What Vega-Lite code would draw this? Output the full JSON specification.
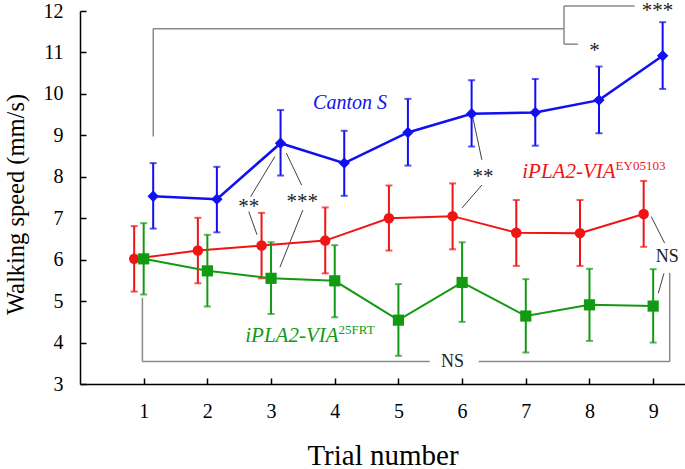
{
  "$schema": "https://vega.github.io/schema/vega-lite/v6.json",
  "autosize": {"type": "none"},
  "width": 605,
  "height": 373,
  "padding": {"left": 80, "top": 11, "right": 0, "bottom": 85},
  "background": "white",
  "config": {
    "view": {"stroke": null},
    "font": "Liberation Serif",
    "text": {"font": "Liberation Serif"},
    "axis": {"grid": false, "domainColor": "black", "domainWidth": 1.5, "tickColor": "black", "tickWidth": 1.5, "labelColor": "black", "titleColor": "black", "labelFont": "Liberation Serif", "titleFont": "Liberation Serif", "titleFontWeight": "normal"}
  },
  "datasets": {
    "speed": [
      {"trial": 1, "series": "Canton S", "mean": 7.53, "lo": 6.75, "hi": 8.33},
      {"trial": 2, "series": "Canton S", "mean": 7.46, "lo": 6.66, "hi": 8.24},
      {"trial": 3, "series": "Canton S", "mean": 8.81, "lo": 8.03, "hi": 9.61},
      {"trial": 4, "series": "Canton S", "mean": 8.33, "lo": 7.54, "hi": 9.11},
      {"trial": 5, "series": "Canton S", "mean": 9.07, "lo": 8.27, "hi": 9.88},
      {"trial": 6, "series": "Canton S", "mean": 9.52, "lo": 8.73, "hi": 10.33},
      {"trial": 7, "series": "Canton S", "mean": 9.55, "lo": 8.75, "hi": 10.36},
      {"trial": 8, "series": "Canton S", "mean": 9.85, "lo": 9.05, "hi": 10.66},
      {"trial": 9, "series": "Canton S", "mean": 10.92, "lo": 10.12, "hi": 11.73},
      {"trial": 1, "series": "EY05103", "mean": 6.02, "lo": 5.23, "hi": 6.81},
      {"trial": 2, "series": "EY05103", "mean": 6.22, "lo": 5.43, "hi": 7.01},
      {"trial": 3, "series": "EY05103", "mean": 6.34, "lo": 5.55, "hi": 7.13},
      {"trial": 4, "series": "EY05103", "mean": 6.46, "lo": 5.67, "hi": 7.26},
      {"trial": 5, "series": "EY05103", "mean": 7.0, "lo": 6.22, "hi": 7.79},
      {"trial": 6, "series": "EY05103", "mean": 7.05, "lo": 6.25, "hi": 7.84},
      {"trial": 7, "series": "EY05103", "mean": 6.65, "lo": 5.85, "hi": 7.44},
      {"trial": 8, "series": "EY05103", "mean": 6.64, "lo": 5.85, "hi": 7.44},
      {"trial": 9, "series": "EY05103", "mean": 7.1, "lo": 6.31, "hi": 7.9},
      {"trial": 1, "series": "25FRT", "mean": 6.02, "lo": 5.16, "hi": 6.88},
      {"trial": 2, "series": "25FRT", "mean": 5.73, "lo": 4.87, "hi": 6.6},
      {"trial": 3, "series": "25FRT", "mean": 5.55, "lo": 4.69, "hi": 6.42},
      {"trial": 4, "series": "25FRT", "mean": 5.49, "lo": 4.61, "hi": 6.35},
      {"trial": 5, "series": "25FRT", "mean": 4.54, "lo": 3.68, "hi": 5.41},
      {"trial": 6, "series": "25FRT", "mean": 5.45, "lo": 4.5, "hi": 6.42},
      {"trial": 7, "series": "25FRT", "mean": 4.64, "lo": 3.76, "hi": 5.53},
      {"trial": 8, "series": "25FRT", "mean": 4.91, "lo": 4.04, "hi": 5.78},
      {"trial": 9, "series": "25FRT", "mean": 4.88, "lo": 4.0, "hi": 5.77}
    ],
    "brackets": [
      {"x": 1.15, "y": 8.97, "x2": 1.15, "y2": 11.57},
      {"x": 1.15, "y": 11.57, "x2": 7.6, "y2": 11.57},
      {"x": 7.6, "y": 11.2, "x2": 7.6, "y2": 12.12},
      {"x": 7.6, "y": 12.12, "x2": 8.71, "y2": 12.12},
      {"x": 7.6, "y": 11.2, "x2": 7.82, "y2": 11.2},
      {"x": 0.98, "y": 5.08, "x2": 0.98, "y2": 3.54},
      {"x": 0.98, "y": 3.54, "x2": 5.49, "y2": 3.54},
      {"x": 6.26, "y": 3.54, "x2": 9.26, "y2": 3.54},
      {"x": 9.26, "y": 3.54, "x2": 9.26, "y2": 5.68}
    ],
    "leaders": [
      {"x": 3.06, "y": 8.49, "x2": 2.68, "y2": 7.52},
      {"x": 3.24, "y": 8.57, "x2": 3.48, "y2": 7.8},
      {"x": 2.65, "y": 7.16, "x2": 2.78, "y2": 6.6},
      {"x": 3.5, "y": 7.2, "x2": 3.14, "y2": 5.82},
      {"x": 6.17, "y": 9.42, "x2": 6.31, "y2": 8.41},
      {"x": 6.31, "y": 7.8, "x2": 6.0, "y2": 7.25},
      {"x": 8.97, "y": 7.04, "x2": 9.18, "y2": 6.4},
      {"x": 9.08, "y": 5.19, "x2": 9.17, "y2": 5.67}
    ],
    "stars": [
      {"x": 9.07, "y": 11.99, "text": "***"},
      {"x": 8.08, "y": 11.03, "text": "*"},
      {"x": 2.65, "y": 7.27, "text": "**"},
      {"x": 3.49, "y": 7.39, "text": "***"},
      {"x": 6.33, "y": 7.99, "text": "**"}
    ],
    "ns": [
      {"x": 9.22, "y": 6.06, "text": "NS"},
      {"x": 5.85, "y": 3.54, "text": "NS"}
    ]
  },
  "layer": [
    {
      "data": {"name": "brackets"},
      "mark": {"type": "rule", "color": "#8a8a8a", "strokeWidth": 1.5},
      "encoding": {
        "x": {"field": "x", "type": "quantitative", "scale": {"domain": [0, 9.5], "nice": false, "zero": false},
          "axis": {"values": [1, 2, 3, 4, 5, 6, 7, 8, 9], "format": "d", "tickSize": -6, "labelFontSize": 20, "labelPadding": 39, "labelBaseline": "alphabetic", "title": "Trial number", "titleFontSize": 29, "titleBaseline": "alphabetic", "titleAlign": "center", "titleY": 80}},
        "y": {"field": "y", "type": "quantitative", "scale": {"domain": [3, 12], "nice": false, "zero": false},
          "axis": {"values": [3, 4, 5, 6, 7, 8, 9, 10, 11, 12], "format": "d", "tickSize": -6, "labelFontSize": 20, "labelPadding": 23, "title": "Walking speed (mm/s)", "titleFontSize": 24.5, "titleBaseline": "alphabetic", "titleAlign": "center", "titleX": -57, "titleY": 193, "titleAngle": -90}},
        "x2": {"field": "x2"},
        "y2": {"field": "y2"}
      }
    },
    {
      "data": {"name": "leaders"},
      "mark": {"type": "rule", "color": "#404040", "strokeWidth": 1},
      "encoding": {
        "x": {"field": "x", "type": "quantitative"},
        "y": {"field": "y", "type": "quantitative"},
        "x2": {"field": "x2"},
        "y2": {"field": "y2"}
      }
    },
    {
      "data": {"name": "speed"},
      "transform": [{"filter": "datum.series === 'EY05103'"}],
      "layer": [
        {"mark": {"type": "rule", "color": "#f01414", "strokeWidth": 2, "xOffset": -9.5}, "encoding": {"x": {"field": "trial", "type": "quantitative"}, "y": {"field": "lo", "type": "quantitative"}, "y2": {"field": "hi"}}},
        {"mark": {"type": "tick", "color": "#f01414", "thickness": 2, "size": 7, "orient": "horizontal", "xOffset": -9.5}, "encoding": {"x": {"field": "trial", "type": "quantitative"}, "y": {"field": "lo", "type": "quantitative"}}},
        {"mark": {"type": "tick", "color": "#f01414", "thickness": 2, "size": 7, "orient": "horizontal", "xOffset": -9.5}, "encoding": {"x": {"field": "trial", "type": "quantitative"}, "y": {"field": "hi", "type": "quantitative"}}},
        {"mark": {"type": "line", "color": "#f01414", "strokeWidth": 2, "xOffset": -9.5}, "encoding": {"x": {"field": "trial", "type": "quantitative"}, "y": {"field": "mean", "type": "quantitative"}}},
        {"mark": {"type": "point", "shape": "circle", "filled": true, "opacity": 1, "color": "#f01414", "size": 110, "xOffset": -9.5}, "encoding": {"x": {"field": "trial", "type": "quantitative"}, "y": {"field": "mean", "type": "quantitative"}}}
      ]
    },
    {
      "data": {"name": "speed"},
      "transform": [{"filter": "datum.series === '25FRT'"}],
      "layer": [
        {"mark": {"type": "rule", "color": "#129a12", "strokeWidth": 2}, "encoding": {"x": {"field": "trial", "type": "quantitative"}, "y": {"field": "lo", "type": "quantitative"}, "y2": {"field": "hi"}}},
        {"mark": {"type": "tick", "color": "#129a12", "thickness": 2, "size": 7, "orient": "horizontal"}, "encoding": {"x": {"field": "trial", "type": "quantitative"}, "y": {"field": "lo", "type": "quantitative"}}},
        {"mark": {"type": "tick", "color": "#129a12", "thickness": 2, "size": 7, "orient": "horizontal"}, "encoding": {"x": {"field": "trial", "type": "quantitative"}, "y": {"field": "hi", "type": "quantitative"}}},
        {"mark": {"type": "line", "color": "#129a12", "strokeWidth": 2}, "encoding": {"x": {"field": "trial", "type": "quantitative"}, "y": {"field": "mean", "type": "quantitative"}}},
        {"mark": {"type": "point", "shape": "square", "filled": true, "opacity": 1, "color": "#129a12", "size": 125}, "encoding": {"x": {"field": "trial", "type": "quantitative"}, "y": {"field": "mean", "type": "quantitative"}}}
      ]
    },
    {
      "data": {"name": "speed"},
      "transform": [{"filter": "datum.series === 'Canton S'"}],
      "layer": [
        {"mark": {"type": "rule", "color": "#1010f0", "strokeWidth": 2, "xOffset": 9.5}, "encoding": {"x": {"field": "trial", "type": "quantitative"}, "y": {"field": "lo", "type": "quantitative"}, "y2": {"field": "hi"}}},
        {"mark": {"type": "tick", "color": "#1010f0", "thickness": 2, "size": 7, "orient": "horizontal", "xOffset": 9.5}, "encoding": {"x": {"field": "trial", "type": "quantitative"}, "y": {"field": "lo", "type": "quantitative"}}},
        {"mark": {"type": "tick", "color": "#1010f0", "thickness": 2, "size": 7, "orient": "horizontal", "xOffset": 9.5}, "encoding": {"x": {"field": "trial", "type": "quantitative"}, "y": {"field": "hi", "type": "quantitative"}}},
        {"mark": {"type": "line", "color": "#1010f0", "strokeWidth": 2.5, "xOffset": 9.5}, "encoding": {"x": {"field": "trial", "type": "quantitative"}, "y": {"field": "mean", "type": "quantitative"}}},
        {"mark": {"type": "point", "shape": "diamond", "filled": true, "opacity": 1, "color": "#1010f0", "size": 130, "xOffset": 9.5}, "encoding": {"x": {"field": "trial", "type": "quantitative"}, "y": {"field": "mean", "type": "quantitative"}}}
      ]
    },
    {
      "data": {"name": "stars"},
      "mark": {"type": "text", "font": "Liberation Serif", "fontSize": 21, "color": "#222222", "align": "center", "baseline": "middle"},
      "encoding": {"x": {"field": "x", "type": "quantitative"}, "y": {"field": "y", "type": "quantitative"}, "text": {"field": "text"}}
    },
    {
      "data": {"name": "ns"},
      "mark": {"type": "text", "font": "Liberation Serif", "fontSize": 18, "color": "#222222", "align": "center", "baseline": "middle"},
      "encoding": {"x": {"field": "x", "type": "quantitative"}, "y": {"field": "y", "type": "quantitative"}, "text": {"field": "text"}}
    },
    {
      "data": {"values": [{"x": 4.24, "y": 9.78, "text": "Canton S"}]},
      "mark": {"type": "text", "font": "Liberation Serif", "fontSize": 20, "fontStyle": "italic", "color": "#1010f0", "align": "center", "baseline": "middle"},
      "encoding": {"x": {"field": "x", "type": "quantitative"}, "y": {"field": "y", "type": "quantitative"}, "text": {"field": "text"}}
    },
    {
      "data": {"values": [{"x": 8.41, "y": 7.97, "text": "iPLA2-VIA"}]},
      "mark": {"type": "text", "font": "Liberation Serif", "fontSize": 21, "fontStyle": "italic", "color": "#f01414", "align": "right", "baseline": "alphabetic"},
      "encoding": {"x": {"field": "x", "type": "quantitative"}, "y": {"field": "y", "type": "quantitative"}, "text": {"field": "text"}}
    },
    {
      "data": {"values": [{"x": 8.41, "y": 8.16, "text": "EY05103"}]},
      "mark": {"type": "text", "font": "Liberation Serif", "fontSize": 13, "color": "#f01414", "align": "left", "baseline": "alphabetic"},
      "encoding": {"x": {"field": "x", "type": "quantitative"}, "y": {"field": "y", "type": "quantitative"}, "text": {"field": "text"}}
    },
    {
      "data": {"values": [{"x": 4.06, "y": 4.02, "text": "iPLA2-VIA"}]},
      "mark": {"type": "text", "font": "Liberation Serif", "fontSize": 21, "fontStyle": "italic", "color": "#129a12", "align": "right", "baseline": "alphabetic"},
      "encoding": {"x": {"field": "x", "type": "quantitative"}, "y": {"field": "y", "type": "quantitative"}, "text": {"field": "text"}}
    },
    {
      "data": {"values": [{"x": 4.06, "y": 4.2, "text": "25FRT"}]},
      "mark": {"type": "text", "font": "Liberation Serif", "fontSize": 13, "color": "#129a12", "align": "left", "baseline": "alphabetic"},
      "encoding": {"x": {"field": "x", "type": "quantitative"}, "y": {"field": "y", "type": "quantitative"}, "text": {"field": "text"}}
    }
  ]
}
